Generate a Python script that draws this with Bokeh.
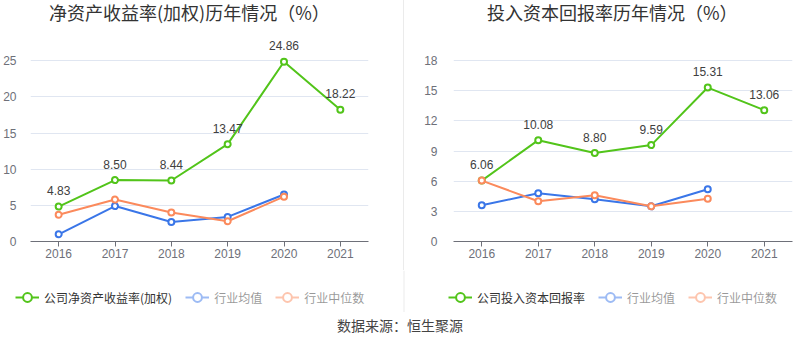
from bokeh.plotting import figure
from bokeh.models import Range1d, FixedTicker, Legend, LegendItem, ColumnDataSource, Div, Span
from bokeh.layouts import row, column
from bokeh.embed import file_html
from bokeh.resources import INLINE
from bokeh.core.properties import value

# ---------------- data ----------------
years = ["2016", "2017", "2018", "2019", "2020", "2021"]
ind_years = ["2016", "2017", "2018", "2019", "2020"]

roe_company = [4.83, 8.50, 8.44, 13.47, 24.86, 18.22]
roe_ind_mean = [1.0, 4.9, 2.7, 3.4, 6.5]
roe_ind_median = [3.7, 5.8, 4.0, 2.8, 6.2]
roe_ticks = [0, 5, 10, 15, 20, 25]

roic_company = [6.06, 10.08, 8.80, 9.59, 15.31, 13.06]
roic_ind_mean = [3.6, 4.8, 4.2, 3.5, 5.2]
roic_ind_median = [6.06, 4.0, 4.6, 3.5, 4.25]
roic_ticks = [0, 3, 6, 9, 12, 15, 18]

roe_title = "净资产收益率(加权)历年情况（%）"
roic_title = "投入资本回报率历年情况（%）"
roe_label = "公司净资产收益率(加权)"
roic_label = "公司投入资本回报率"
mean_label = "行业均值"
median_label = "行业中位数"
source_text = "数据来源：恒生聚源"

# ---------------- style ----------------
GREEN = "#52c41a"
BLUE = "#3a76e8"
ORANGE = "#fb8a5c"
AXIS = "#6e7079"
GRID = "#e0e6f1"
DIVIDER = "#ebebeb"
NUM_FONT = "Liberation Sans, Noto Sans CJK SC"
CJK_FONT = "Noto Sans CJK SC"


def sources(company, mean, median):
    cs = ColumnDataSource(dict(x=years, y=company, t=["%.2f" % v for v in company]))
    ms = ColumnDataSource(dict(x=ind_years, y=mean))
    ds = ColumnDataSource(dict(x=ind_years, y=median))
    return cs, ms, ds


def series(p, src, color, visible=True):
    l = p.line("x", "y", source=src, line_color=color, line_width=2, visible=visible)
    s = p.scatter("x", "y", source=src, size=6, marker="circle", line_color=color,
                  line_width=2, fill_color="white", visible=visible)
    return [l, s]


def make_chart(srcs, ticks, ymax, width, bl, br, ystandoff):
    cs, ms, ds = srcs
    p = figure(width=width, height=240, x_range=years, y_range=Range1d(0, ymax),
               output_backend="svg", toolbar_location=None,
               min_border_left=bl, min_border_right=br,
               min_border_top=6, min_border_bottom=29,
               outline_line_color=None, background_fill_color="white",
               border_fill_color="white", margin=0)

    p.yaxis.ticker = FixedTicker(ticks=ticks)
    p.yaxis.axis_line_color = None
    p.yaxis.major_tick_line_color = None
    p.yaxis.minor_tick_line_color = None
    p.yaxis.major_label_standoff = ystandoff
    p.yaxis.major_label_text_font = NUM_FONT
    p.yaxis.major_label_text_font_size = "12px"
    p.yaxis.major_label_text_color = AXIS

    p.xaxis.axis_line_color = AXIS
    p.xaxis.major_tick_line_color = AXIS
    p.xaxis.major_tick_out = 5
    p.xaxis.major_tick_in = 0
    p.xaxis.major_label_standoff = 2
    p.xaxis.major_label_text_font = NUM_FONT
    p.xaxis.major_label_text_font_size = "12px"
    p.xaxis.major_label_text_color = AXIS

    p.xgrid.grid_line_color = None
    p.ygrid.grid_line_color = GRID
    p.ygrid.grid_line_width = 1

    series(p, cs, GREEN)
    series(p, ms, BLUE)
    series(p, ds, ORANGE)

    p.text("x", "y", text="t", source=cs, text_font=value(NUM_FONT),
           text_font_size="12px", text_color="#404040", text_align="center",
           text_baseline="middle", y_offset=-16)
    return p


roe_srcs = sources(roe_company, roe_ind_mean, roe_ind_median)
roic_srcs = sources(roic_company, roic_ind_mean, roic_ind_median)

p1 = make_chart(roe_srcs, roe_ticks, 28.36, 403, 29, 35, 8)
p2 = make_chart(roic_srcs, roic_ticks, 20.39, 396, 49, 8, 10)

# ---------------- legend strip (one figure across the page) ----------------
lf = figure(width=800, height=42, x_range=years, y_range=Range1d(-2, -1),
            output_backend="svg", toolbar_location=None,
            x_axis_location=None, y_axis_location=None,
            min_border_left=0, min_border_right=0, min_border_top=0, min_border_bottom=0,
            outline_line_color=None, background_fill_color="white",
            border_fill_color="white", margin=0)
lf.xgrid.grid_line_color = None
lf.ygrid.grid_line_color = None
lf.add_layout(Span(location=403.5, location_units="screen", dimension="height",
                   line_color=DIVIDER, line_width=1))


def add_legend(srcs, company_label, x):
    cs, ms, ds = srcs
    legend = Legend(items=[LegendItem(label=company_label, renderers=series(lf, cs, GREEN)),
                           LegendItem(label=mean_label, renderers=series(lf, ms, BLUE, False)),
                           LegendItem(label=median_label, renderers=series(lf, ds, ORANGE, False))],
                    orientation="horizontal", location=(x, 4),
                    click_policy="hide", inactive_fill_color="white",
                    inactive_fill_alpha=0.5,
                    glyph_width=24, glyph_height=22, label_height=22,
                    label_standoff=5, spacing=13, padding=0, margin=0,
                    label_text_font=CJK_FONT, label_text_font_size="12px",
                    label_text_color="#333333",
                    background_fill_alpha=0, border_line_color=None)
    lf.add_layout(legend)


add_legend(roe_srcs, roe_label, 15)
add_legend(roic_srcs, roic_label, 448)

# ---------------- titles, divider, source ----------------
def title_div(text, width, pad_left):
    return Div(text=('<div style="padding:3px 0 0 %dpx; font-size:18px; line-height:18px; '
                     'color:#333333; white-space:nowrap; font-family:\'Noto Sans CJK SC\';">%s</div>'
                     % (pad_left, text)),
               width=width, height=30, margin=0)


def vline(h):
    return Div(text="", width=1, height=h, margin=0, styles={"background-color": DIVIDER})


t1 = title_div(roe_title, 403, 49)
t2 = title_div(roic_title, 396, 83)

src = Div(text=('<div style="width:800px; text-align:center; font-size:14px; color:#444444; '
                'padding-top:3px; font-family:\'Noto Sans CJK SC\';">%s</div>' % source_text),
          width=800, height=46, margin=0)

layout = column(row(t1, vline(30), t2), row(p1, vline(240), p2), lf, src)

open("out.html", "w").write(file_html(layout, INLINE))
